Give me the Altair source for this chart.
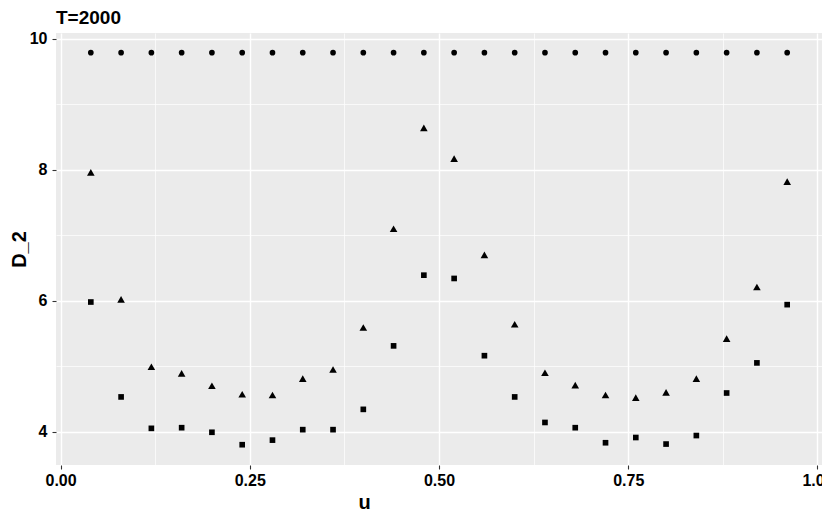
import altair as alt
import pandas as pd

u = [0.04, 0.08, 0.12, 0.16, 0.20, 0.24, 0.28, 0.32, 0.36, 0.40, 0.44, 0.48,
     0.52, 0.56, 0.60, 0.64, 0.68, 0.72, 0.76, 0.80, 0.84, 0.88, 0.92, 0.96]

d2_circle = [9.79, 9.79, 9.79, 9.79, 9.79, 9.79, 9.79, 9.79, 9.79, 9.79, 9.79, 9.79,
             9.79, 9.79, 9.79, 9.79, 9.79, 9.79, 9.79, 9.79, 9.79, 9.79, 9.79, 9.79]
d2_triangle = [7.96, 6.02, 4.99, 4.89, 4.70, 4.57, 4.56, 4.81, 4.95, 5.59, 7.10, 8.64,
               8.17, 6.70, 5.64, 4.90, 4.71, 4.56, 4.52, 4.60, 4.81, 5.42, 6.21, 7.82]
d2_square = [5.98, 4.53, 4.05, 4.06, 3.99, 3.80, 3.87, 4.03, 4.03, 4.34, 5.31, 6.39,
             6.34, 5.16, 4.53, 4.14, 4.06, 3.83, 3.91, 3.81, 3.94, 4.59, 5.05, 5.94]

series_names = ["circle", "triangle", "square"]

x_major = [0.0, 0.25, 0.5, 0.75, 1.0]
x_minor = [0.125, 0.375, 0.625, 0.875]
y_major = [4, 6, 8, 10]
y_minor = [5, 7, 9]

rows = []
for name, vals in zip(series_names, [d2_circle, d2_triangle, d2_square]):
    for xv, yv in zip(u, vals):
        rows.append({"u": xv, "D_2": yv, "series": name})
df = pd.DataFrame(rows)

FONT = "Liberation Sans"
xscale = alt.Scale(domain=[-0.006, 1.006], nice=False, zero=False)
yscale = alt.Scale(domain=[3.49, 10.09], nice=False, zero=False)

base = alt.Chart(df)

minor = base.mark_point(opacity=0).encode(
    x=alt.X("u:Q", scale=xscale,
            axis=alt.Axis(orient="bottom", values=x_minor, grid=True, gridColor="white",
                          gridWidth=0.7, labels=False, ticks=False, domain=False, title=None)),
    y=alt.Y("D_2:Q", scale=yscale,
            axis=alt.Axis(orient="left", values=y_minor, grid=True, gridColor="white",
                          gridWidth=0.7, labels=False, ticks=False, domain=False, title=None)),
)

x_main = alt.X("u:Q", scale=xscale,
               axis=alt.Axis(orient="bottom", values=x_major, format=".2f", grid=True,
                             gridColor="white", gridWidth=1.4, domain=False,
                             tickColor="#333333", tickSize=4, tickWidth=1.1,
                             labelFont=FONT, labelFontSize=16, labelFontWeight="bold",
                             labelColor="black", labelPadding=3,
                             title="u", titleFont=FONT, titleFontSize=20,
                             titleFontWeight="bold", titleColor="black",
                             titleX=308, titleY=43, titleAlign="center",
                             titleBaseline="alphabetic"))
y_main = alt.Y("D_2:Q", scale=yscale,
               axis=alt.Axis(orient="left", values=y_major, format="d", grid=True,
                             gridColor="white", gridWidth=1.4, domain=False,
                             tickColor="#333333", tickSize=4, tickWidth=1.1,
                             labelFont=FONT, labelFontSize=16, labelFontWeight="bold",
                             labelColor="black", labelPadding=5,
                             title="D_2", titleFont=FONT, titleFontSize=20,
                             titleFontWeight="bold", titleColor="black",
                             titleAngle=270, titleX=-31, titleY=216, titleAlign="center",
                             titleBaseline="alphabetic"))

main = base.mark_point(filled=True, opacity=1, color="black").encode(
    x=x_main,
    y=y_main,
    shape=alt.Shape("series:N",
                    scale=alt.Scale(domain=series_names,
                                    range=["circle", "triangle-up", "square"]),
                    legend=None),
    size=alt.condition(alt.datum.series == "triangle", alt.value(58), alt.value(32)),
)

chart = alt.layer(minor, main).resolve_axis(
    x="independent", y="independent"
).properties(
    width=766,
    height=432,
    title=alt.Title("T=2000", anchor="start", frame="group", fontSize=19,
                    fontWeight="bold", font=FONT, color="black",
                    baseline="alphabetic", offset=10, dy=22),
    autosize=alt.AutoSizeParams(type="none"),
    padding={"left": 48, "top": 25, "right": 0, "bottom": 46},
).configure_view(fill="#EBEBEB", stroke=None)

chart.save("out.html", embed_options={"renderer": "svg", "actions": False})
